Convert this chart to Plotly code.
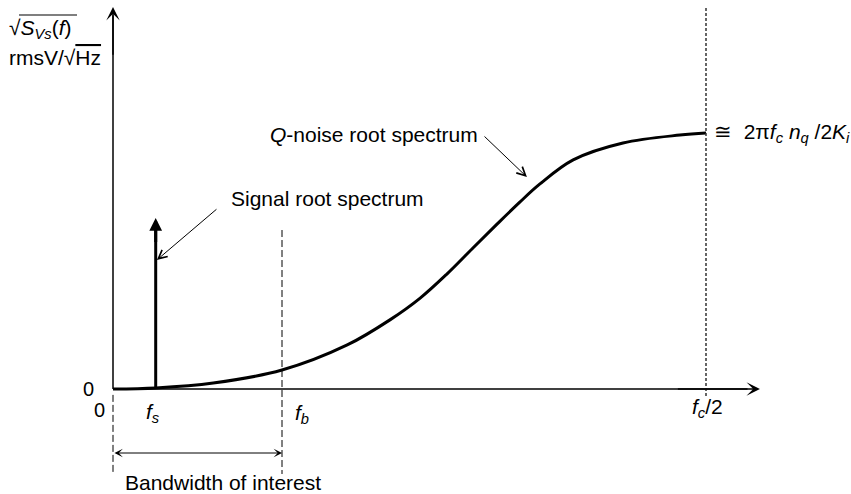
import plotly.graph_objects as go

# ---------------- data ----------------
# frequency axis normalised so that f_c/2 = 1 ; amplitude normalised so plateau = 1
noise_f = [0.0, 0.0725, 0.169, 0.285, 0.395, 0.467, 0.518, 0.563, 0.607, 0.648,
           0.686, 0.720, 0.776, 0.860, 0.956, 1.0]
noise_amp = [0.0, 0.004, 0.023, 0.074, 0.172, 0.270, 0.355, 0.449, 0.551, 0.645,
             0.730, 0.801, 0.895, 0.961, 0.992, 1.0]

signal_f = [0.072]
signal_amp = [0.668]

f_s = 0.072
f_b = 0.285
f_half = 1.0

tick_labels = ["0", "<i>f</i><sub><i>s</i></sub>", "<i>f</i><sub><i>b</i></sub>",
               "<i>f</i><sub><i>c</i></sub>/2"]

# ---------------- figure ----------------
W, H = 851, 494
X0_PX, X1_PX = 113, 706      # pixel of f=0 and f=f_c/2
Y0_PX, Y1_PX = 389, 133      # pixel of amp=0 and amp=1
sx = X1_PX - X0_PX
sy = Y0_PX - Y1_PX
x_range = [-X0_PX / sx, (W - X0_PX) / sx]
y_range = [-(H - Y0_PX) / sy, Y0_PX / sy]

FONT = "Liberation Sans, Arial, Helvetica, sans-serif"
FS = 21

fig = go.Figure()

# Q-noise root spectrum
fig.add_trace(go.Scatter(x=noise_f, y=noise_amp, mode="lines",
                         line=dict(color="black", width=3, shape="spline", smoothing=1.0),
                         hoverinfo="skip", showlegend=False))

# signal line (shaft)
fig.add_trace(go.Scatter(x=[signal_f[0], signal_f[0]], y=[0, signal_amp[0] - 0.03],
                         mode="lines", line=dict(color="black", width=3),
                         hoverinfo="skip", showlegend=False))

shapes = []
# y axis line
shapes.append(dict(type="line", xref="x", yref="y", x0=0, x1=0, y0=0, y1=1.46,
                   line=dict(color="black", width=1.5)))
# x axis line
shapes.append(dict(type="line", xref="x", yref="y", x0=0, x1=1.07, y0=0, y1=0,
                   line=dict(color="black", width=1.5)))
# dashed line at f=0 (below axis)
shapes.append(dict(type="line", xref="x", yref="y", x0=0, x1=0, y0=-0.023, y1=-0.332,
                   line=dict(color="black", width=1, dash="7px,3px")))
# dashed line at f_b
shapes.append(dict(type="line", xref="x", yref="y", x0=f_b, x1=f_b, y0=0.621, y1=-0.332,
                   line=dict(color="black", width=1, dash="7px,3px")))
# dotted line at f_c/2
shapes.append(dict(type="line", xref="x", yref="y", x0=f_half, x1=f_half, y0=1.488, y1=-0.031,
                   line=dict(color="#333333", width=1.5, dash="3px,2px")))
# overline of the square root in the y title
shapes.append(dict(type="line", xref="paper", yref="paper",
                   x0=19 / W, x1=77 / W, y0=1 - 15 / H, y1=1 - 15 / H,
                   line=dict(color="black", width=1.2)))

ann = []
def arrow(xt, yt, xs, ys, head, width, size, side="end"):
    ann.append(dict(x=xt, y=yt, ax=xs, ay=ys, xref="x", yref="y", axref="x", ayref="y",
                    text="", showarrow=True, arrowhead=head, startarrowhead=head,
                    arrowside=side, arrowwidth=width, arrowsize=size,
                    startarrowsize=size, arrowcolor="black"))

# axis arrow heads
arrow(0, 1.492, 0, 1.30, 3, 1.5, 1.5)
arrow(1.091, 0, 0.95, 0, 3, 1.5, 1.5)
# signal arrow head
arrow(signal_f[0], signal_amp[0], signal_f[0], signal_amp[0] - 0.1, 2, 3, 0.85)
# bandwidth double arrow
arrow(f_b, -0.25, 0, -0.25, 3, 1, 1.4, side="end+start")
# pointer arrows
arrow(0.074, 0.504, 0.177, 0.707, 5, 1, 1.7)
arrow(0.698, 0.828, 0.624, 0.992, 5, 1, 1.7)

def label(x, y, text, xanchor="center", size=FS):
    ann.append(dict(x=x, y=y, xref="x", yref="y", text=text, showarrow=False,
                    xanchor=xanchor, yanchor="middle",
                    font=dict(family=FONT, size=size, color="black")))

label(-0.042, 0.0, "0", size=20)
label(-0.022, -0.082, tick_labels[0], size=20)
label(0.067, -0.094, tick_labels[1])
label(0.319, -0.098, tick_labels[2])
label(1.002, -0.074, tick_labels[3])
label(0.1855, -0.367, "Bandwidth of interest")
label(0.361, 0.746, "Signal root spectrum")
label(0.440, 0.996, "<i>Q</i>-noise root spectrum")
label(1.010, 1.0, "\u2245  2\u03c0<i>f</i><sub><i>c</i></sub> <i>n</i><sub><i>q</i></sub> /2<i>K</i><sub><i>i</i></sub>",
      xanchor="left")
label(-0.178, 1.405,
      "\u221a<i>S</i><sub><i>Vs</i></sub>(<i>f</i>)",
      xanchor="left")
label(-0.178, 1.293, "rmsV/\u221a<span style='text-decoration:overline'>Hz</span>", xanchor="left")

fig.update_layout(
    width=W, height=H, autosize=False,
    margin=dict(l=0, r=0, t=0, b=0),
    paper_bgcolor="white", plot_bgcolor="white",
    xaxis=dict(range=x_range, visible=False, fixedrange=True),
    yaxis=dict(range=y_range, visible=False, fixedrange=True),
    shapes=shapes, annotations=ann, showlegend=False,
)

fig.write_html("out.html", config={"displayModeBar": False},
               post_script="document.body.style.margin='0';document.body.style.overflow='hidden';")
